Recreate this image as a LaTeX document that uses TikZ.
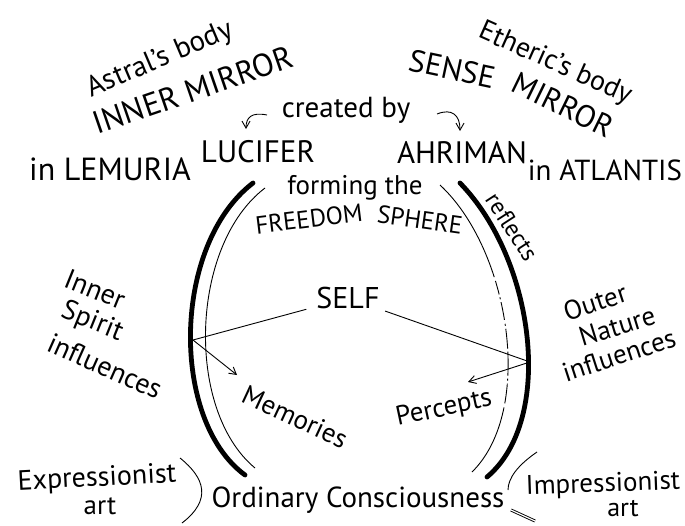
\documentclass[tikz,border=0pt]{standalone}
\usepackage{fontspec}
\setmainfont{PT Sans}
\usetikzlibrary{arrows.meta}
\newcommand\fsz[1]{\fontsize{#1}{#1}\selectfont}
\begin{document}
\begin{tikzpicture}[x=1pt,y=1pt,
  txt/.style={inner sep=0pt},
  ln/.style={line width=0.9pt},
  mirror/.style={line width=4.8pt, line cap=round},
  barb/.style={-{Straight Barb[length=7pt,width=8pt]}}]
\useasboundingbox (0,0) rectangle (685,-525);
% mirrors
\draw[mirror] (253,-183) .. controls (172,-245) and (170,-420) .. (245,-475);
\draw[ln] (265,-188) .. controls (190,-245) and (185,-410) .. (255,-468);
\draw[mirror] (460,-183) .. controls (535,-260) and (555,-420) .. (487,-477);
\draw[ln, dash pattern=on 108pt off 4pt on 14pt off 3pt on 2pt off 3pt on 18pt off 4pt on 2pt off 3pt on 20pt off 3pt on 24pt off 3pt on 2pt off 3pt on 20pt off 4pt on 200pt]
  (440,-185) .. controls (510,-250) and (535,-410) .. (472,-472);
% top texts
\node[txt, font=\fsz{29}, rotate=23] (astral) at (160,-60) {Astral's body};
\node[txt, font=\fsz{32}, rotate=19] (inner) at (193,-90) {INNER MIRROR};
\node[txt, font=\fsz{28}, rotate=-24] (etheric) at (555,-64) {Etheric's body};
\node[txt, font=\fsz{31}, rotate=-12] (sense) at (452,-69) {SENSE};
\node[txt, font=\fsz{31}, rotate=-26] (mirr) at (563,-105) {MIRROR};
\node[txt, font=\fsz{29}] (cb) at (346,-110) {created by};
\node[txt, font=\fsz{31}] (luc) at (258,-152) {LUCIFER};
\node[txt, font=\fsz{31}] (ahr) at (462,-153) {AHRIMAN};
\node[txt, font=\fsz{32}] (lem) at (110,-169) {in LEMURIA};
\node[txt, font=\fsz{29}] (atl) at (605,-170) {in ATLANTIS};
\coordinate (cbL0) at (267,-115);
\coordinate (cbL1) at (246,-129);
\coordinate (cbR0) at (437,-114);
\coordinate (cbR1) at (460,-131);
\draw[ln, barb] (cbL0) .. controls (252,-112) and (246,-117) .. (cbL1);
\draw[ln, barb] (cbR0) .. controls (452,-108) and (460,-115) .. (cbR1);
% inside
\node[txt, font=\fsz{27}] (form) at (355,-188) {forming the};
\node[txt, font=\fsz{25}, rotate=7] (free) at (309,-219) {FREEDOM};
\node[txt, font=\fsz{25}, rotate=-8] (sph) at (420,-220) {SPHERE};
\node[txt, font=\fsz{24}, rotate=-57] (refl) at (512,-227) {reflects};
\node[font=\fsz{30}, inner xsep=10pt, inner ysep=2pt] (self) at (348,-298) {SELF};
\node[txt, font=\fsz{27}, rotate=-25] (mem) at (295,-417) {Memories};
\node[txt, font=\fsz{27}, rotate=12] (perc) at (444,-409) {Percepts};
% side texts
\node[txt, font=\fsz{28}, rotate=-22] (inr) at (95,-289) {Inner};
\node[txt, font=\fsz{28}, rotate=-22] (spi) at (92,-322) {Spirit};
\node[txt, font=\fsz{28}, rotate=-24] (infl) at (105,-366) {influences};
\node[txt, font=\fsz{27}, rotate=18] (out) at (595,-302) {Outer};
\node[txt, font=\fsz{27}, rotate=17] (nat) at (617,-326) {Nature};
\node[txt, font=\fsz{27}, rotate=18] (infr) at (619,-355) {influences};
% bottom
\node[txt, font=\fsz{28}, rotate=3] (expr) at (97,-479) {Expressionist};
\node[txt, font=\fsz{27}] (arta) at (100,-506) {art};
\node[txt, font=\fsz{29}] (ord) at (358,-500) {Ordinary Consciousness};
\node[txt, font=\fsz{27}, rotate=2] (impr) at (603,-485) {Impressionist};
\node[txt, font=\fsz{26}] (artb) at (623,-509) {art};
\draw[ln] (180,-458) .. controls (205,-478) and (212,-500) .. (182,-523);
\draw[ln] (537,-452) .. controls (518,-465) and (508,-478) .. (508,-490);
\draw[ln, double, double distance=1.2pt] (511,-510) -- (535,-521);
% connectors
\coordinate (L) at (193,-340);
\coordinate (R) at (530,-362);
\coordinate (memtip) at (237,-375);
\coordinate (pertip) at (468,-382);
\draw[ln] (self) -- (L);
\draw[ln, barb] (L) -- (memtip);
\draw[ln] (self) -- (R);
\draw[ln, barb] (R) -- (pertip);
\end{tikzpicture}
\end{document}
